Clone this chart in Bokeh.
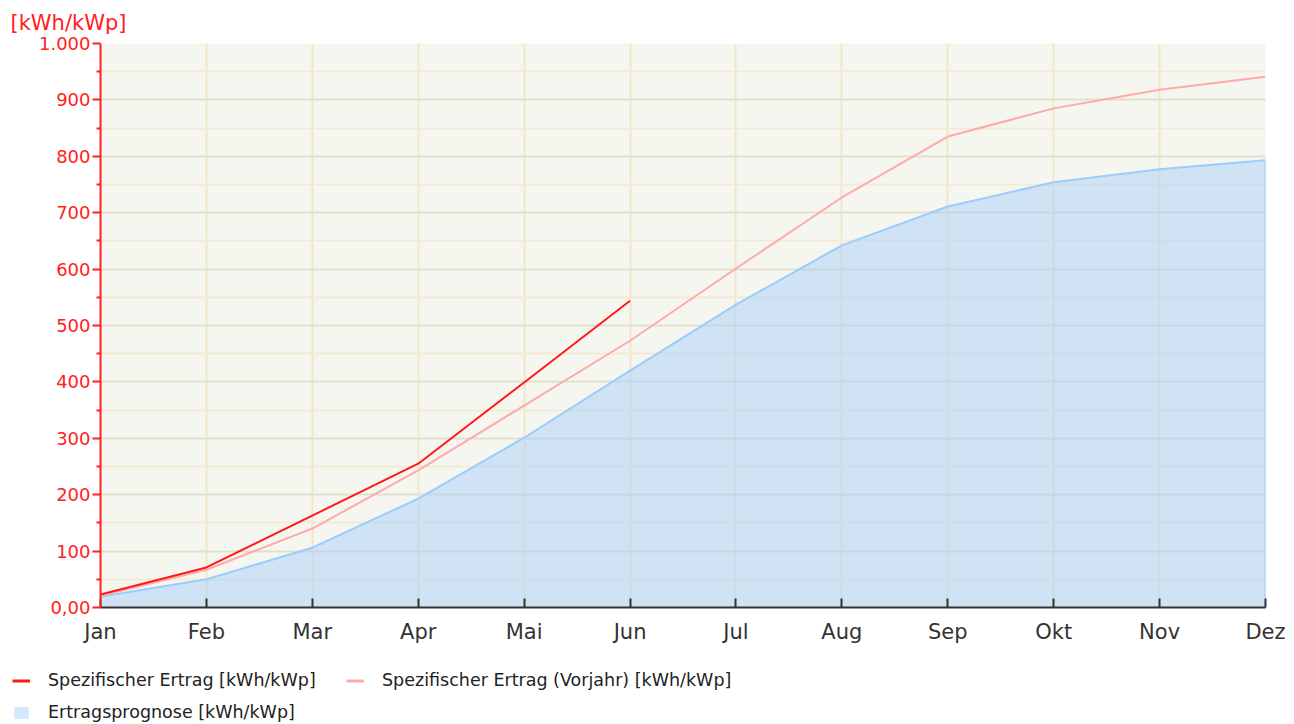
from bokeh.plotting import figure
from bokeh.layouts import column
from bokeh.models import FixedTicker, Range1d, Legend, LegendItem, Title
from bokeh.embed import file_html
from bokeh.resources import INLINE

months = ["Jan", "Feb", "Mar", "Apr", "Mai", "Jun", "Jul", "Aug", "Sep", "Okt", "Nov", "Dez"]
ertrag = [23, 71, 163, 255, 399, 544]
vorjahr = [21, 67, 140, 243, 358, 473, 601, 727, 835, 885, 918, 941]
prognose = [19, 50, 106, 193, 301, 420, 537, 642, 711, 754, 777, 793]
y_ticks = [0, 100, 200, 300, 400, 500, 600, 700, 800, 900, 1000]
y_labels = ["0,00", "100", "200", "300", "400", "500", "600", "700", "800", "900", "1.000"]
y_minor = [50, 150, 250, 350, 450, 550, 650, 750, 850, 950]
legend_labels = ["Spezifischer Ertrag [kWh/kWp]",
                 "Spezifischer Ertrag (Vorjahr) [kWh/kWp]",
                 "Ertragsprognose [kWh/kWp]"]

x = list(range(len(months)))
FONT = "DejaVu Sans"
C_ERT, C_VOR, C_PROG_LINE, C_PROG_FILL = "#ff1a1a", "#ffaaaa", "#99ccff", "#aad0f8"

p = figure(width=1294, height=650, output_backend="svg", toolbar_location=None,
           x_range=Range1d(0, 11), y_range=Range1d(0, 1000),
           min_border_left=100, min_border_right=29, min_border_top=43, min_border_bottom=43,
           border_fill_color="#ffffff")
p.background_fill_color = "#f6f6f0"
p.outline_line_color = None
p.frame_align = False

# grids
p.xgrid.ticker = FixedTicker(ticks=x)
p.xgrid.grid_line_color = "#f2e6c9"
p.xgrid.grid_line_width = 2
p.ygrid.ticker = FixedTicker(ticks=y_ticks, minor_ticks=y_minor)
p.ygrid.grid_line_color = "#e0e0cc"
p.ygrid.grid_line_width = 2
p.ygrid.minor_grid_line_color = "#f3ead4"
p.ygrid.minor_grid_line_width = 2

# x axis
xa = p.xaxis[0]
xa.ticker = FixedTicker(ticks=x)
xa.major_label_overrides = {i: m for i, m in zip(x, months)}
xa.axis_line_color = "#333333"
xa.axis_line_width = 2
xa.major_tick_in = 9
xa.major_tick_out = 0
xa.major_tick_line_color = "#333333"
xa.major_tick_line_width = 2
xa.minor_tick_line_color = None
xa.major_label_text_font = FONT
xa.major_label_text_font_size = "21px"
xa.major_label_text_color = "#333333"
xa.major_label_standoff = 12

# y axis
ya = p.yaxis[0]
ya.ticker = FixedTicker(ticks=y_ticks, minor_ticks=y_minor)
ya.major_label_overrides = {t: l for t, l in zip(y_ticks, y_labels)}
ya.axis_line_color = "#ff2020"
ya.axis_line_width = 2
ya.major_tick_in = 0
ya.major_tick_out = 8
ya.major_tick_line_color = "#ff2020"
ya.major_tick_line_width = 2
ya.minor_tick_in = 0
ya.minor_tick_out = 4
ya.minor_tick_line_color = "#ff2020"
ya.minor_tick_line_width = 2
ya.major_label_text_font = FONT
ya.major_label_text_font_size = "18px"
ya.major_label_text_color = "#ff2020"
ya.major_label_standoff = 2

# data
p.varea(x=x, y1=[0] * len(x), y2=prognose, fill_color=C_PROG_FILL, fill_alpha=0.5)
p.line(x=x, y=prognose, line_color=C_PROG_LINE, line_width=2)
p.segment(x0=[x[-1]], y0=[0], x1=[x[-1]], y1=[prognose[-1]], line_color=C_PROG_LINE, line_width=2)
p.line(x=x, y=vorjahr, line_color=C_VOR, line_width=2)
p.line(x=x[:len(ertrag)], y=ertrag, line_color=C_ERT, line_width=2)

p.add_layout(Title(text="[kWh/kWp]", align="left", offset=-90, text_color="#ff2020",
                   text_font=FONT, text_font_size="21px", text_font_style="normal",
                   standoff=17), "above")

# legend figure (legend only, no visible data)
lg = figure(width=1294, height=74, output_backend="svg", toolbar_location=None,
            x_range=Range1d(0, 1), y_range=Range1d(0, 1),
            x_axis_location=None, y_axis_location=None,
            min_border=0, outline_line_color=None)
lg.frame_align = False
lg.grid.visible = False
nan = float("nan")
r1 = lg.line(x=[nan], y=[nan], line_color=C_ERT, line_width=3)
r2 = lg.line(x=[nan], y=[nan], line_color=C_VOR, line_width=3)
r3 = lg.varea(x=[nan], y1=[nan], y2=[nan], fill_color=C_PROG_FILL, fill_alpha=0.5)

legend = Legend(items=[
    LegendItem(label=legend_labels[0], renderers=[r1]),
    LegendItem(label=legend_labels[1], renderers=[r2]),
    LegendItem(label=legend_labels[2], renderers=[r3]),
], orientation="horizontal", ncols=2, location=(12, 2),
    background_fill_alpha=0, border_line_color=None,
    label_text_font=FONT, label_text_font_size="17.5px", label_text_color="#222222",
    glyph_width=18, glyph_height=15, label_standoff=18, label_width=286,
    spacing=12, padding=0, margin=0)
lg.add_layout(legend)

layout = column(p, lg, spacing=0)
open("out.html", "w").write(file_html(layout, INLINE))
